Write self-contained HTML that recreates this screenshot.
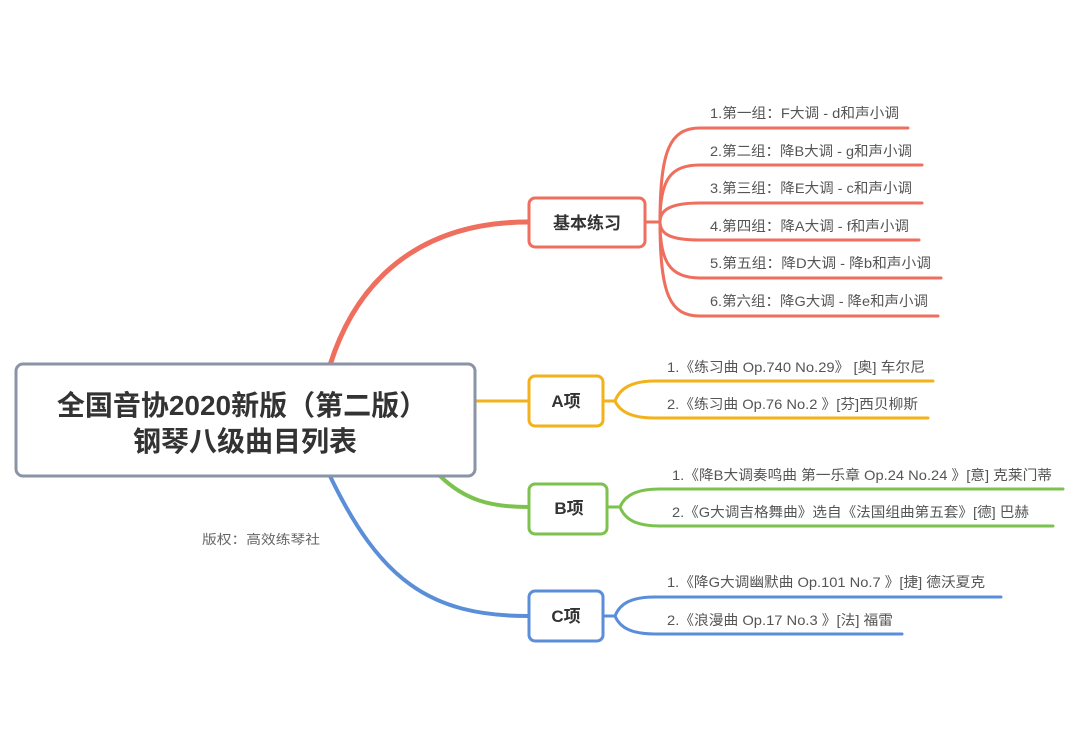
<!DOCTYPE html>
<html><head><meta charset="utf-8"><style>
html,body{margin:0;padding:0;background:#fff;}
svg{display:block;}
text{font-family:"Liberation Sans","Noto Sans CJK SC",sans-serif;}
.l{font-size:14px;fill:#555;}
</style></head><body>
<svg width="1080" height="729" viewBox="0 0 1080 729" xmlns="http://www.w3.org/2000/svg">
<g fill="none" stroke-linecap="round">
<path d="M330,365 C360,270 430,222 528,222" stroke="#ef6f5e" stroke-width="5"/>
<path d="M475,401 L528,401" stroke="#f2b21c" stroke-width="3"/>
<path d="M440,476 C465,500 490,507 528,507" stroke="#7cc24e" stroke-width="4"/>
<path d="M330,476 C380,580 430,616 528,616" stroke="#5b8ed8" stroke-width="4"/>
<g stroke="#ef6f5e" stroke-width="3">
<path d="M645,222 L660,222"/>
<path d="M660,222 C660,150 670,128 700,128 L908,128"/>
<path d="M660,222 C660,180 670,165 700,165 L922,165"/>
<path d="M660,222 C660,210 670,203 700,203 L922,203"/>
<path d="M660,222 C660,234 670,240 700,240 L919,240"/>
<path d="M660,222 C660,262 670,278 700,278 L941,278"/>
<path d="M660,222 C660,295 670,316 700,316 L938,316"/>
</g>
<g stroke="#f2b21c" stroke-width="3">
<path d="M603,401 L615,401"/>
<path d="M615,401 C620,388 632,381 655,381 L933,381"/>
<path d="M615,401 C620,412 632,418 655,418 L928,418"/>
</g>
<g stroke="#7cc24e" stroke-width="3">
<path d="M607,507 L620,507"/>
<path d="M620,507 C625,495 637,489 660,489 L1063,489"/>
<path d="M620,507 C625,520 637,526 660,526 L1053,526"/>
</g>
<g stroke="#5b8ed8" stroke-width="3">
<path d="M603,616 L615,616"/>
<path d="M615,616 C620,603 632,597 655,597 L1001,597"/>
<path d="M615,616 C620,628 632,634 655,634 L902,634"/>
</g>
</g>
<rect x="16" y="364" width="459" height="112" rx="7" fill="#fff" stroke="#8a94a6" stroke-width="3"/>
<text x="242" y="415" text-anchor="middle" font-size="28" font-weight="bold" fill="#333">全国音协2020新版（第二版）</text>
<text x="245" y="451" text-anchor="middle" font-size="28" font-weight="bold" fill="#333">钢琴八级曲目列表</text>
<rect x="529" y="198" width="116" height="49" rx="6" fill="#fff" stroke="#ef6f5e" stroke-width="3"/>
<text x="587" y="229" text-anchor="middle" font-size="17" font-weight="bold" fill="#333">基本练习</text>
<rect x="529" y="376" width="74" height="50" rx="6" fill="#fff" stroke="#f2b21c" stroke-width="3"/>
<text x="566" y="407" text-anchor="middle" font-size="17" font-weight="bold" fill="#333">A项</text>
<rect x="529" y="484" width="78" height="50" rx="6" fill="#fff" stroke="#7cc24e" stroke-width="3"/>
<text x="569" y="514" text-anchor="middle" font-size="17" font-weight="bold" fill="#333">B项</text>
<rect x="529" y="591" width="74" height="50" rx="6" fill="#fff" stroke="#5b8ed8" stroke-width="3"/>
<text x="566" y="622" text-anchor="middle" font-size="17" font-weight="bold" fill="#333">C项</text>
<text class="l" x="710" y="118" textLength="189" lengthAdjust="spacingAndGlyphs">1.第一组：F大调 - d和声小调</text>
<text class="l" x="710" y="156" textLength="202" lengthAdjust="spacingAndGlyphs">2.第二组：降B大调 - g和声小调</text>
<text class="l" x="710" y="193" textLength="202" lengthAdjust="spacingAndGlyphs">3.第三组：降E大调 - c和声小调</text>
<text class="l" x="710" y="231" textLength="199" lengthAdjust="spacingAndGlyphs">4.第四组：降A大调 - f和声小调</text>
<text class="l" x="710" y="268" textLength="221" lengthAdjust="spacingAndGlyphs">5.第五组：降D大调 - 降b和声小调</text>
<text class="l" x="710" y="306" textLength="218" lengthAdjust="spacingAndGlyphs">6.第六组：降G大调 - 降e和声小调</text>
<text class="l" x="667" y="372" textLength="258" lengthAdjust="spacingAndGlyphs">1.《练习曲 Op.740 No.29》 [奥] 车尔尼</text>
<text class="l" x="667" y="409" textLength="251" lengthAdjust="spacingAndGlyphs">2.《练习曲 Op.76 No.2 》[芬]西贝柳斯</text>
<text class="l" x="672" y="480" textLength="380" lengthAdjust="spacingAndGlyphs">1.《降B大调奏鸣曲 第一乐章 Op.24 No.24 》[意] 克莱门蒂</text>
<text class="l" x="672" y="517" textLength="357" lengthAdjust="spacingAndGlyphs">2.《G大调吉格舞曲》选自《法国组曲第五套》[德] 巴赫</text>
<text class="l" x="667" y="587" textLength="318" lengthAdjust="spacingAndGlyphs">1.《降G大调幽默曲 Op.101 No.7 》[捷] 德沃夏克</text>
<text class="l" x="667" y="625" textLength="226" lengthAdjust="spacingAndGlyphs">2.《浪漫曲 Op.17 No.3 》[法] 福雷</text>
<text x="202" y="544" font-size="13" fill="#666" textLength="118" lengthAdjust="spacingAndGlyphs">版权：高效练琴社</text>
</svg>
</body></html>
